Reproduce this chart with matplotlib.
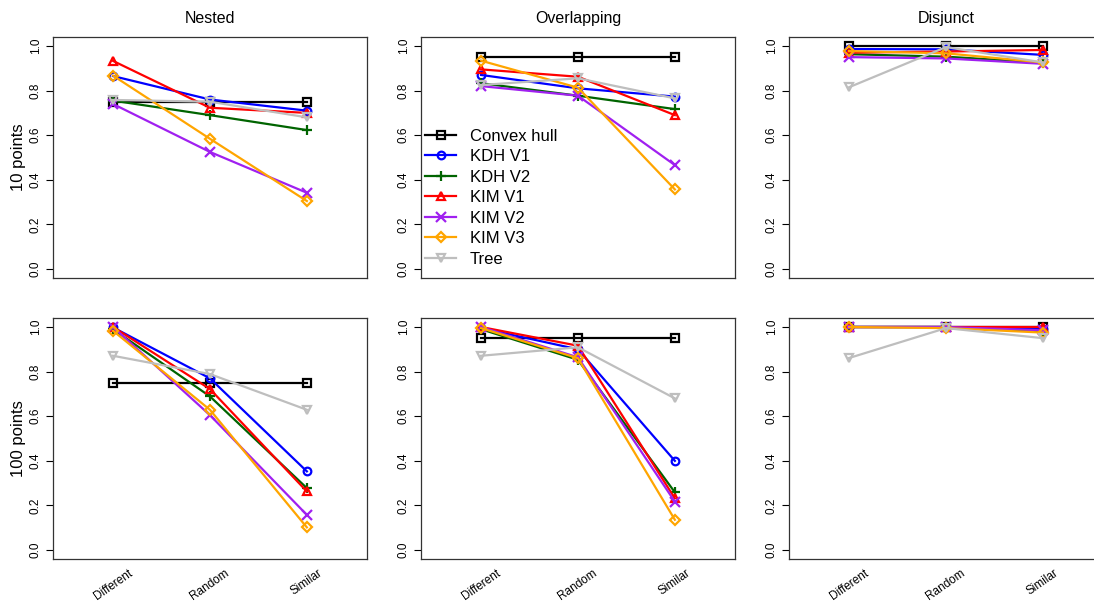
import numpy as np
import matplotlib
matplotlib.use("Agg")
import matplotlib.pyplot as plt

plt.rcParams['font.family'] = ['Liberation Sans', 'DejaVu Sans']

# categories and methods
groups = ["Different", "Random", "Similar"]
methods = ["Convex hull", "KDH V1", "KDH V2", "KIM V1", "KIM V2", "KIM V3", "Tree"]
colors = ["black", "#0000FF", "#006400", "#FF0000", "#A020F0", "#FFA500", "#BEBEBE"]
markers = ["s", "o", "+", "^", "x", "D", "v"]
titles = ["Nested", "Overlapping", "Disjunct"]
rows = ["10 points", "100 points"]

# one row per method, one column per group
nested_10 = [[0.75, 0.75, 0.75],
             [0.865, 0.76, 0.71],
             [0.755, 0.69, 0.623],
             [0.933, 0.723, 0.70],
             [0.74, 0.525, 0.342],
             [0.867, 0.584, 0.305],
             [0.758, 0.75, 0.68]]
overlap_10 = [[0.95, 0.95, 0.95],
              [0.87, 0.81, 0.773],
              [0.833, 0.777, 0.717],
              [0.895, 0.862, 0.69],
              [0.82, 0.777, 0.466],
              [0.934, 0.813, 0.357],
              [0.825, 0.855, 0.765]]
disjunct_10 = [[1.0, 1.0, 1.0],
               [0.986, 0.985, 0.96],
               [0.963, 0.952, 0.925],
               [0.97, 0.975, 0.982],
               [0.95, 0.944, 0.92],
               [0.977, 0.967, 0.926],
               [0.815, 0.995, 0.926]]
nested_100 = [[0.75, 0.75, 0.75],
              [0.998, 0.77, 0.353],
              [0.99, 0.689, 0.278],
              [1.0, 0.722, 0.263],
              [1.0, 0.605, 0.158],
              [0.983, 0.629, 0.102],
              [0.871, 0.789, 0.629]]
overlap_100 = [[0.95, 0.95, 0.95],
               [0.995, 0.90, 0.40],
               [0.99, 0.853, 0.259],
               [1.0, 0.916, 0.232],
               [1.0, 0.864, 0.217],
               [0.995, 0.86, 0.136],
               [0.871, 0.909, 0.68]]
disjunct_100 = [[1.0, 1.0, 1.0],
                [1.0, 1.0, 0.99],
                [1.0, 1.0, 0.98],
                [1.0, 1.0, 1.0],
                [1.0, 1.0, 0.985],
                [1.0, 0.995, 0.975],
                [0.861, 0.995, 0.95]]

panels = [[nested_10, overlap_10, disjunct_10],
          [nested_100, overlap_100, disjunct_100]]

fig = plt.figure(figsize=(10.94, 6.07), dpi=100)

lefts = [0.0484, 0.3848, 0.7212]
bottoms = [0.542, 0.079]
w, h = 0.287, 0.397
msizes = {"s": 5.5, "o": 5.5, "+": 7, "^": 6, "x": 6.5, "D": 5, "v": 6}

x = np.arange(1, 4)
for r in range(2):
    for c in range(3):
        ax = fig.add_axes([lefts[c], bottoms[r], w, h])
        data = panels[r][c]
        for i, m in enumerate(methods):
            ax.plot(x, data[i], color=colors[i], lw=1.6, marker=markers[i],
                    ms=msizes[markers[i]], mfc="none", mec=colors[i],
                    mew=1.6, label=m)
        ax.set_xlim(0.38, 3.62)
        ax.set_ylim(-0.04, 1.04)
        ax.set_yticks(np.arange(0, 1.01, 0.2))
        ax.set_yticklabels(["%.1f" % v for v in np.arange(0, 1.01, 0.2)],
                           rotation=90, va="center", fontsize=8.5)
        ax.tick_params(axis="y", direction="out", length=5, width=0.8, pad=3)
        ax.set_xticks(x)
        if r == 1:
            ax.set_xticklabels(groups, rotation=35, ha="center", fontsize=8.5)
            ax.tick_params(axis="x", length=0, pad=6)
        else:
            ax.set_xticklabels([])
            ax.tick_params(axis="x", length=0)
        for s in ax.spines.values():
            s.set_linewidth(0.9)
            s.set_color("#333333")
        if r == 0:
            ax.set_title(titles[c], fontsize=11.5, pad=10)
        if c == 0:
            ax.set_ylabel(rows[r], fontsize=12, labelpad=3)
        if r == 0 and c == 1:
            ax.legend(loc="center left", bbox_to_anchor=(0.012, 0.334),
                      frameon=False, fontsize=12, handlelength=1.9,
                      handletextpad=0.8, labelspacing=0.33, borderaxespad=0,
                      borderpad=0)

fig.savefig("out.png", dpi=100)
